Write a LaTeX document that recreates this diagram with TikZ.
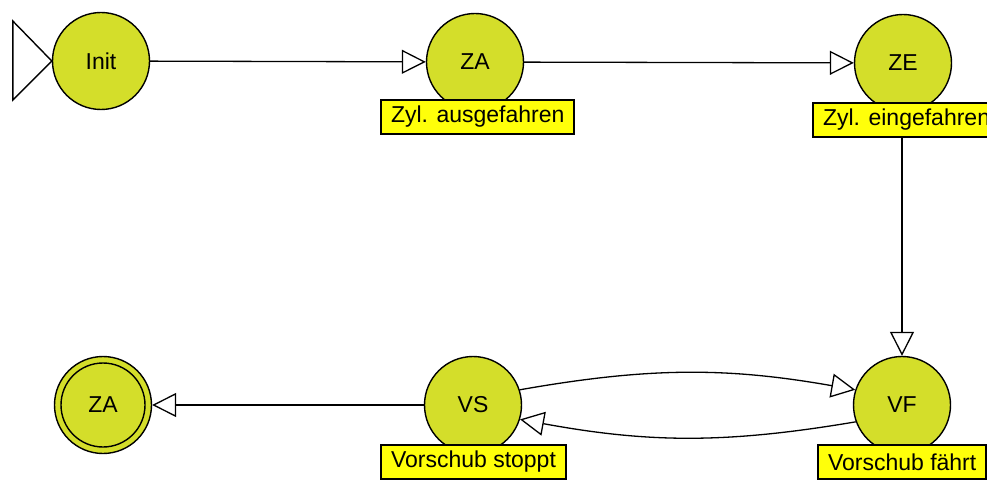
\documentclass[tikz,border=0pt]{standalone}
\usepackage{fontspec}
\setmainfont{Liberation Sans}
\usetikzlibrary{arrows.meta,calc}
\definecolor{stategreen}{RGB}{212,222,42}
\definecolor{labelyellow}{RGB}{255,255,10}
\tikzset{
  state/.style={circle, draw=black, line width=1.4pt, fill=stategreen, minimum size=97pt, inner sep=0pt, font=\fontsize{23}{27}\selectfont},
  lbl/.style={rectangle, draw=black, line width=2pt, fill=labelyellow, minimum height=34pt, inner xsep=10pt, inner ysep=0pt, anchor=north west, font=\fontsize{23}{27}\selectfont},
  trans/.style={line width=1.3pt, -{Triangle[open, fill=white, length=24pt, width=24pt, line width=1.3pt]}}
}
\begin{document}
\begin{tikzpicture}[x=1pt, y=-1pt]
\useasboundingbox (0,0) rectangle (987,481);
\clip (0,0) rectangle (987,481);
\fill[white] (0,0) rectangle (987,481);
% states
\node[state] (Init) at (101,61) {Init};
\node[state] (ZA) at (475,62) {ZA};
\node[state] (ZE) at (903,63) {ZE};
\node[state] (VS) at (473,405) {VS};
\node[state] (VF) at (902,405) {VF};
\node[state] (FZA) at (103,405) {ZA};
\draw[line width=1.4pt] (FZA) circle[radius=42pt];
% labels
\node[lbl] (Lza) at (380,99) {Zyl. ausgefahren};
\node[lbl] (Lze) at (812,102) {Zyl. eingefahren};
\node[lbl] (Lvs) at (380,444) {Vorschub stoppt};
\node[lbl] (Lvf) at (817,444) {Vorschub fährt};
% initial marker
\draw[line width=1.4pt, fill=white] ($(Init.west)+(-39,-40)$) coordinate (ia) -- (Init.west) -- ($(Init.west)+(-39,39)$) coordinate (ib) -- cycle;
% transitions
\draw[trans] (Init) -- (ZA);
\draw[trans] (ZA) -- (ZE);
\draw[trans] (Lze.south -| VF.north) -- (VF.north);
\draw[trans] (VS.18) to[bend left=10] (VF.162);
\draw[trans] (VF.200) to[bend left=10] (VS.-17);
\draw[trans] (VS) -- (FZA);
\end{tikzpicture}
\end{document}
